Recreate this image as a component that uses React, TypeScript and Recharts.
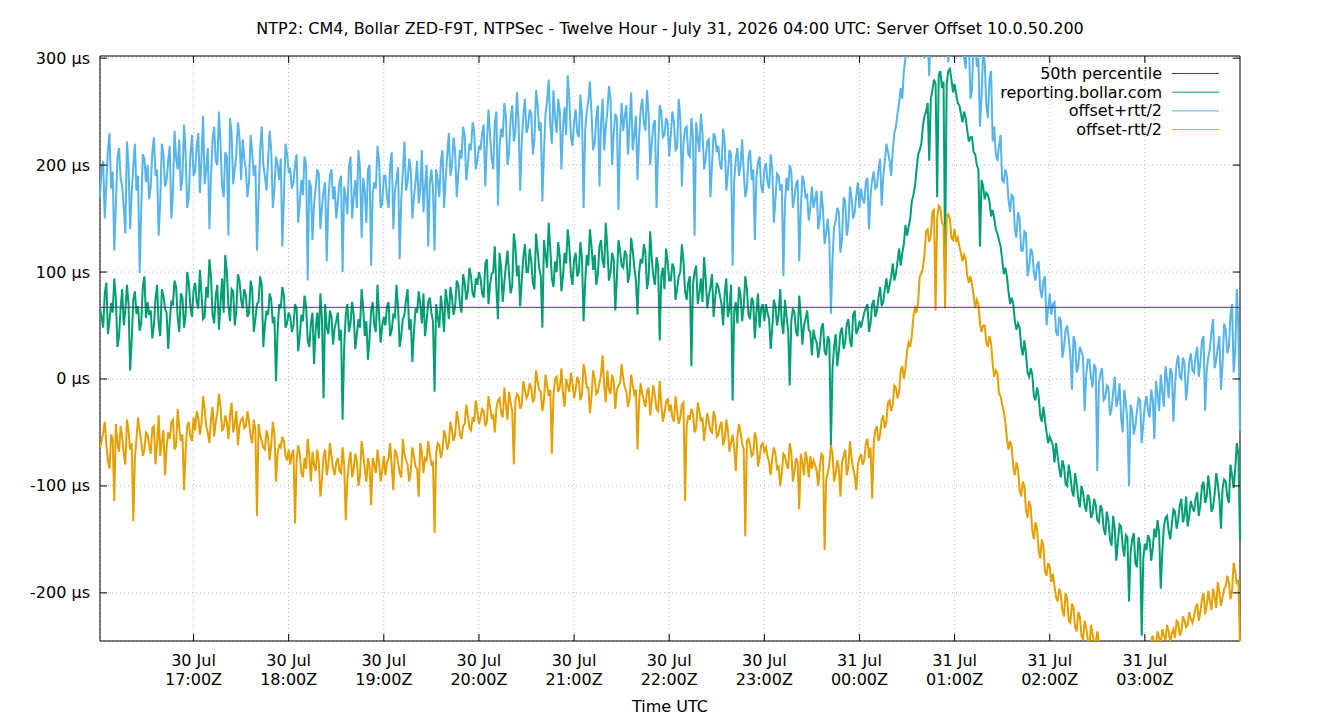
import { LineChart, Line, XAxis, YAxis, CartesianGrid, ReferenceLine, ReferenceArea } from 'recharts';

const FONT = '"DejaVu Sans", sans-serif';

// plot box edges in page pixels (used by the tick renderers)
const PLOT_LEFT = 100;
const PLOT_RIGHT = 1240;
const PLOT_TOP = 56;
const PLOT_BOTTOM = 641;

// samples: minutes after 30 Jul 16:00Z, one per minute
const SAMPLE_START = 1;
const SAMPLE_STEP = 1;

// server offset in µs (reporting.bollar.com), 30 samples per row
const offsetUs = [
  66, 58, 48, 80, 90, 42, 55, 71, 62, 94, 76, 30, 40, 66, 84, 50, 64, 88, 70, 8, 36, 74, 82, 61, 68, 45, 52, 86, 96, 57,
  72, 60, 64, 38, 50, 75, 88, 52, 40, 84, 78, 66, 62, 28, 54, 72, 70, 92, 86, 57, 44, 80, 76, 48, 60, 100, 90, 68, 58, 83,
  90, 72, 66, 102, 80, 56, 58, 86, 76, 112, 96, 60, 52, 78, 88, 46, 70, 94, 62, 116, 100, 68, 54, 84, 82, 50, 64, 98, 92, 74,
  66, 84, 78, 58, 62, 92, 84, 44, 56, 70, 72, 96, 88, 30, 50, 64, 60, 80, 74, 52, 58, -2, 44, 70, 66, 86, 78, 48, 52, 62,
  58, 44, 50, 70, 66, 26, 40, 60, 54, 78, 68, 36, 30, 52, 62, 14, 46, 62, 38, 80, 56, -18, 70, 48, 42, 64, 58, 32, 48, 54,
  62, 36, 46, -38, 30, 60, 70, 44, 52, 72, 60, 28, 42, 56, 48, 84, 66, 40, 54, 18, 38, 64, 72, 50, 44, 88, 60, 34, 50, 58,
  50, 68, 72, 40, 46, 60, 58, 88, 66, 30, 40, 56, 60, 74, 84, 46, 56, 16, 44, 66, 62, 82, 70, 52, 80, 40, 54, 72, 76, 62,
  54, -12, 70, 58, 48, 78, 64, 44, 84, 72, 56, 86, 76, 60, 68, 92, 88, 70, 62, 98, 90, 74, 82, 104, 96, 80, 76, 94, 88, 100,
  94, 80, 76, 108, 112, 70, 88, 98, 100, 124, 84, 56, 118, 104, 72, 90, 106, 120, 98, 80, 88, 136, 124, 96, 106, 68, 92, 114, 126, 100,
  100, 122, 110, 90, 84, 136, 120, 104, 96, 48, 130, 116, 104, 146, 122, 94, 86, 110, 100, 128, 114, 82, 96, 118, 108, 140, 124, 98, 88, 112,
  118, 96, 100, 128, 112, 54, 90, 116, 106, 140, 124, 102, 116, 88, 98, 124, 130, 110, 104, 146, 122, 92, 100, 118, 112, 64, 94, 130, 120, 106,
  104, 120, 116, 90, 98, 132, 120, 104, 92, 60, 100, 112, 108, 126, 118, 84, 94, 138, 112, 96, 88, 114, 106, 36, 96, 104, 84, 122, 110, 92,
  92, 108, 104, 74, 84, 96, 100, 126, 110, 82, 74, 90, 96, 12, 88, 100, 106, 70, 80, 94, 72, 114, 94, 66, 78, 86, 98, 58, 76, 90,
  86, 78, 70, 50, 80, 94, 58, 66, 88, -20, 64, 72, 52, 86, 78, 54, 68, 96, 84, 60, 56, 76, 72, 38, 62, 80, 48, 66, 70, 54,
  70, 62, 56, 28, 48, 74, 68, 50, 60, 84, 52, 42, 74, 58, 46, -6, 54, 66, 62, 44, 40, 78, 58, 32, 50, 56, 64, 46, 44, 22,
  46, 38, 34, 20, 30, 48, 52, 26, 22, 40, 36, -62, 10, 30, 42, 12, 26, 44, 48, 28, 34, 52, 56, 36, 30, 60, 64, 42, 46, 54,
  48, 55, 62, 66, 70, 44, 52, 70, 74, 58, 64, 76, 86, 68, 72, 84, 94, 80, 88, 96, 108, 92, 98, 110, 122, 106, 118, 126, 144, 134,
  142, 150, 166, 172, 180, 196, 210, 214, 220, 236, 246, 250, 258, 204, 262, 270, 280, 276, 170, 284, 288, 272, 278, 118, 276, 288, 290, 280, 268, 276,
  266, 258, 256, 248, 240, 250, 244, 232, 222, 226, 226, 212, 210, 200, 196, 124, 186, 180, 168, 174, 172, 166, 152, 158, 150, 140, 136, 130, 124, 112,
  98, 104, 96, 82, 70, 76, 70, 54, 46, 52, 48, 30, 22, 36, 24, 6, 2, 10, 4, -16, -20, -8, -16, -34, -40, -26, -38, -50, -60, -54,
  -58, -62, -78, -60, -72, -84, -92, -76, -82, -98, -100, -80, -90, -104, -110, -88, -98, -112, -120, -100, -106, -118, -124, -108, -112, -130, -126, -112, -118, -132,
  -134, -118, -122, -140, -146, -124, -132, -150, -156, -128, -140, -170, -152, -136, -138, -156, -166, -146, -148, -208, -162, -150, -144, -172, -176, -148, -156, -240, -168, -154,
  -160, -146, -150, -170, -158, -140, -148, -132, -144, -196, -162, -138, -130, -128, -142, -150, -136, -122, -124, -140, -132, -118, -112, -134, -128, -110, -138, -128, -114, -120,
  -124, -112, -106, -128, -118, -100, -96, -116, -110, -90, -104, -124, -120, -108, -88, -98, -112, -140, -102, -94, -96, -110, -116, -80, -90, -102, -84, -60, -70, -150,
];

// offset + rtt/2 in µs
const offsetPlusHalfRtt = [
  170, 196, 204, 150, 182, 214, 230, 178, 194, 120, 162, 206, 216, 188, 180, 160, 136, 222, 200, 140, 174, 198, 220, 176, 190, 99, 158, 210, 206, 184,
  200, 168, 180, 212, 226, 190, 196, 134, 166, 220, 210, 180, 186, 204, 218, 150, 174, 232, 206, 196, 224, 176, 188, 238, 212, 160, 170, 210, 228, 190,
  194, 218, 230, 174, 206, 246, 182, 196, 216, 140, 190, 224, 236, 204, 200, 250, 220, 180, 170, 212, 208, 134, 244, 230, 182, 196, 210, 240, 226, 186,
  224, 206, 196, 170, 184, 228, 212, 190, 200, 120, 166, 214, 236, 200, 190, 176, 204, 232, 214, 160, 178, 208, 200, 186, 206, 124, 172, 220, 210, 194,
  196, 178, 184, 200, 210, 146, 164, 186, 172, 208, 200, 92, 186, 180, 130, 164, 178, 196, 192, 140, 160, 176, 184, 110, 166, 190, 196, 168, 180, 150,
  166, 184, 190, 100, 180, 170, 154, 198, 208, 150, 170, 186, 160, 214, 196, 132, 188, 176, 146, 196, 200, 106, 174, 184, 178, 218, 204, 160, 164, 190,
  190, 170, 160, 200, 212, 140, 176, 186, 198, 112, 168, 194, 222, 176, 184, 206, 196, 150, 170, 184, 204, 164, 178, 214, 156, 180, 200, 124, 182, 196,
  178, 120, 196, 186, 170, 204, 214, 160, 186, 210, 230, 190, 200, 226, 212, 170, 192, 214, 206, 236, 228, 186, 200, 220, 214, 240, 232, 196, 204, 218,
  214, 230, 238, 180, 220, 252, 228, 206, 196, 240, 250, 162, 218, 234, 226, 258, 246, 200, 212, 244, 256, 222, 232, 268, 240, 176, 222, 246, 262, 230,
  236, 252, 248, 210, 224, 270, 256, 232, 240, 166, 212, 248, 260, 280, 238, 220, 270, 244, 230, 262, 250, 196, 236, 254, 228, 284, 262, 226, 218, 240,
  252, 230, 226, 266, 246, 160, 232, 250, 260, 278, 248, 214, 220, 244, 256, 180, 240, 262, 214, 236, 250, 274, 262, 200, 230, 248, 244, 158, 226, 258,
  232, 246, 256, 210, 238, 268, 214, 228, 246, 186, 226, 252, 262, 240, 232, 270, 248, 200, 220, 238, 242, 160, 214, 256, 250, 226, 228, 244, 240, 208,
  228, 250, 240, 214, 216, 262, 244, 180, 220, 234, 236, 210, 208, 244, 226, 134, 240, 226, 212, 248, 230, 196, 206, 222, 224, 170, 200, 230, 226, 212,
  218, 200, 196, 234, 222, 176, 192, 214, 210, 106, 186, 206, 216, 190, 200, 224, 194, 170, 178, 208, 214, 186, 196, 130, 188, 202, 208, 180, 174, 196,
  202, 184, 178, 210, 196, 146, 168, 192, 190, 176, 182, 96, 164, 188, 176, 200, 194, 160, 170, 182, 186, 110, 160, 190, 184, 170, 172, 148, 160, 180,
  160, 168, 176, 140, 150, 176, 158, 126, 136, 150, 130, 61, 112, 142, 148, 160, 156, 118, 132, 170, 166, 134, 144, 180, 170, 150, 156, 172, 184, 160,
  178, 168, 164, 184, 188, 140, 172, 186, 194, 178, 180, 196, 206, 162, 190, 204, 220, 212, 204, 190, 214, 230, 236, 248, 258, 272, 262, 288, 300, 312,
  330, 320, 306, 334, 328, 312, 318, 340, 346, 326, 300, 318, 322, 283, 340, 336, 312, 322, 332, 344, 326, 310, 308, 330, 336, 296, 316, 338, 342, 324,
  332, 316, 308, 334, 324, 300, 290, 328, 314, 262, 270, 320, 318, 292, 300, 236, 264, 308, 296, 256, 244, 280, 288, 222, 236, 210, 204, 218, 228, 186,
  184, 196, 190, 168, 156, 172, 170, 140, 132, 156, 150, 120, 120, 138, 136, 96, 104, 122, 118, 100, 92, 106, 110, 84, 76, 92, 96, 50, 66, 80,
  60, 70, 72, 44, 40, 58, 54, 20, 30, 46, 50, 38, 22, -10, 40, 34, 6, 12, 30, 26, 20, -30, 4, 18, 18, 2, -8, 14, 10, -86,
  -4, 6, 10, -20, -18, -6, -8, -34, -28, -12, 2, -26, -20, -4, -36, -50, -10, -22, -40, -100, -24, -30, -52, -44, -30, -18, -20, -60, -42, -24,
  -16, -30, -36, -10, -20, -56, -2, -14, -30, 4, -12, -26, 12, 0, -18, 10, 6, -40, -6, 14, 22, 2, 0, 20, 14, -20, -4, 16, 24, 8,
  6, 22, 30, 2, 16, 36, 40, -30, 8, 20, 28, 44, 56, 10, 18, 30, 40, -10, 14, 52, 46, 24, 30, 60, 70, 6, 26, 84, 48, -48,
];

// offset - rtt/2 in µs
const offsetMinusHalfRtt = [
  -64, -58, -50, -40, -62, -76, -84, -52, -56, -114, -42, -60, -68, -44, -54, -70, -80, -38, -48, -66, -60, -133, -74, -56, -36, -48, -58, -72, -66, -50,
  -52, -62, -70, -46, -44, -80, -60, -34, -72, -58, -48, -90, -64, -50, -56, -40, -38, -66, -62, -28, -46, -58, -52, -104, -68, -44, -40, -54, -58, -36,
  -48, -30, -36, -52, -42, -16, -28, -44, -50, -60, -38, -26, -54, -40, -32, -14, -26, -48, -46, -34, -40, -56, -34, -22, -50, -42, -30, -62, -44, -38,
  -36, -46, -44, -30, -40, -54, -60, -38, -48, -128, -42, -52, -58, -64, -66, -48, -54, -76, -62, -40, -50, -96, -70, -62, -64, -54, -58, -72, -76, -66,
  -80, -70, -66, -135, -76, -62, -70, -88, -92, -74, -84, -56, -72, -96, -68, -80, -86, -66, -78, -110, -94, -72, -66, -90, -80, -60, -72, -84, -90, -78,
  -74, -86, -88, -64, -80, -132, -94, -78, -68, -92, -84, -70, -76, -100, -90, -58, -70, -84, -96, -74, -82, -118, -74, -80, -88, -66, -78, -96, -86, -72,
  -90, -78, -74, -60, -82, -104, -66, -70, -78, -88, -92, -56, -70, -76, -80, -96, -86, -64, -72, -82, -84, -110, -60, -68, -88, -74, -76, -58, -70, -80,
  -78, -144, -70, -60, -62, -74, -66, -48, -54, -66, -60, -40, -48, -58, -52, -30, -38, -52, -56, -44, -42, -24, -34, -46, -48, -36, -40, -20, -30, -42,
  -36, -28, -30, -44, -40, -16, -26, -36, -34, -50, -28, -20, -18, -32, -36, -8, -24, -38, -12, -22, -30, -80, -20, -14, -16, -28, -24, -2, -10, -18,
  -14, -4, -8, -22, -18, 8, -2, -10, -12, -30, -20, 4, -6, -16, -10, -70, -16, 0, 2, -12, -8, 10, -14, -26, 0, -6, -12, 6, -4, -18,
  -10, 2, -2, -20, -14, 14, 6, -8, -8, -32, -16, 8, 0, -14, -12, -4, 4, 22, -6, -22, 8, -10, -14, 4, -2, -28, -10, -6, -4, 14,
  0, -8, -12, -26, -18, 4, -6, -14, -10, -66, -22, -4, -14, -20, -26, -12, -8, -34, -20, -6, -16, -28, -30, -2, -24, -40, -32, -22, -18, -30,
  -24, -36, -40, -16, -30, -42, -36, -24, -22, -114, -44, -34, -38, -28, -32, -50, -46, -22, -30, -40, -36, -58, -44, -32, -40, -48, -50, -30, -36, -54,
  -52, -44, -40, -62, -56, -38, -48, -68, -60, -52, -64, -86, -54, -42, -50, -60, -66, -147, -58, -56, -62, -72, -70, -50, -56, -82, -74, -62, -60, -68,
  -64, -72, -78, -90, -74, -64, -70, -84, -82, -100, -88, -70, -72, -80, -84, -60, -68, -96, -86, -74, -78, -122, -70, -78, -90, -68, -76, -92, -72, -84,
  -76, -80, -86, -100, -82, -70, -72, -160, -94, -88, -80, -62, -70, -96, -88, -76, -84, -110, -78, -72, -66, -90, -82, -58, -74, -84, -90, -104, -80, -74,
  -70, -80, -76, -60, -56, -74, -64, -112, -60, -48, -44, -58, -52, -38, -34, -46, -40, -22, -20, -30, -24, -6, -8, -18, -12, 8, 12, 0, 10, 26,
  34, 30, 40, 58, 66, 62, 72, 96, 98, 104, 116, 138, 140, 128, 134, 156, 158, 64, 150, 162, 160, 146, 144, 66, 152, 154, 150, 132, 130, 140,
  128, 132, 124, 118, 110, 116, 112, 96, 90, 96, 88, 78, 66, 74, 70, 52, 44, 50, 50, 34, 30, 40, 34, 14, 2, 8, 6, -14, -16, -24,
  -30, -40, -56, -66, -58, -64, -82, -90, -78, -84, -104, -110, -96, -100, -122, -130, -114, -120, -142, -150, -134, -140, -160, -168, -150, -156, -180, -184, -172, -176,
  -190, -182, -194, -204, -208, -196, -202, -216, -222, -200, -206, -226, -228, -210, -214, -232, -236, -218, -222, -240, -244, -226, -232, -244, -252, -230, -238, -248, -246, -236,
  -246, -250, -262, -258, -256, -252, -270, -264, -260, -256, -266, -268, -274, -260, -264, -270, -270, -262, -258, -266, -268, -272, -264, -258, -256, -268, -266, -262, -254, -260,
  -250, -256, -260, -244, -240, -250, -248, -236, -242, -248, -234, -240, -244, -230, -236, -246, -238, -234, -242, -226, -228, -240, -236, -222, -226, -232, -230, -218, -224, -228,
  -222, -214, -210, -226, -218, -206, -200, -220, -212, -198, -208, -216, -196, -204, -214, -190, -200, -212, -204, -196, -194, -184, -190, -206, -198, -172, -180, -192, -188, -250,
];

const percentile50 = 67;

const xTicks = [60, 120, 180, 240, 300, 360, 420, 480, 540, 600, 660];
const tickDays = ['30 Jul', '30 Jul', '30 Jul', '30 Jul', '30 Jul', '30 Jul', '30 Jul', '31 Jul', '31 Jul', '31 Jul', '31 Jul'];
const tickTimes = ['17:00Z', '18:00Z', '19:00Z', '20:00Z', '21:00Z', '22:00Z', '23:00Z', '00:00Z', '01:00Z', '02:00Z', '03:00Z'];
const yTicks = [-200, -100, 0, 100, 200, 300];

const xDomain = [1, 720];
const yDomain = [-245, 302];

const legendNames = ['50th percentile', 'reporting.bollar.com', 'offset+rtt/2', 'offset-rtt/2'];
const legendColors = ['#9400d3', '#009e73', '#56b4e9', '#e69f00'];

const data = offsetUs.map((v, i) => ({
  t: SAMPLE_START + i * SAMPLE_STEP,
  offset: v,
  plus: offsetPlusHalfRtt[i],
  minus: offsetMinusHalfRtt[i],
}));

// bottom axis: two-line date/time label, ticks drawn inward on bottom and top border
const TimeTick = (props: any) => {
  const { x, payload } = props;
  const i = xTicks.indexOf(payload.value);
  return (
    <g>
      <line x1={x} x2={x} y1={PLOT_BOTTOM} y2={PLOT_BOTTOM - 7} stroke="#000" />
      <line x1={x} x2={x} y1={PLOT_TOP} y2={PLOT_TOP + 7} stroke="#000" />
      <text x={x} y={666} textAnchor="middle" fontSize={16} fontFamily={FONT} fill="#000">{tickDays[i]}</text>
      <text x={x} y={685} textAnchor="middle" fontSize={16} fontFamily={FONT} fill="#000">{tickTimes[i]}</text>
    </g>
  );
};

const MicroTick = (props: any) => {
  const { y, payload } = props;
  return (
    <g>
      <line x1={PLOT_LEFT} x2={PLOT_LEFT + 7} y1={y} y2={y} stroke="#000" />
      <line x1={PLOT_RIGHT} x2={PLOT_RIGHT - 7} y1={y} y2={y} stroke="#000" />
      <text x={90} y={y + 5.5} textAnchor="end" fontSize={16} fontFamily={FONT} fill="#000">{`${payload.value} µs`}</text>
    </g>
  );
};

export default function App() {
  return (
    <div style={{ position: 'absolute', left: 0, top: 0, width: 1340, height: 720, background: '#fff' }}>
      <LineChart
        width={1340}
        height={720}
        data={data}
        margin={{ top: PLOT_TOP, right: 1340 - PLOT_RIGHT, bottom: 0, left: 0 }}
      >
        <CartesianGrid stroke="#b8b8b8" strokeDasharray="1 3" />
        <XAxis
          dataKey="t"
          type="number"
          domain={xDomain}
          ticks={xTicks}
          interval={0}
          height={720 - PLOT_BOTTOM}
          axisLine={false}
          tickLine={false}
          tick={<TimeTick />}
        />
        <YAxis
          type="number"
          domain={yDomain}
          allowDataOverflow
          ticks={yTicks}
          interval={0}
          width={PLOT_LEFT}
          axisLine={false}
          tickLine={false}
          tick={<MicroTick />}
        />
        <Line name="reporting.bollar.com" dataKey="offset" stroke="#009e73" strokeWidth={2} dot={false} isAnimationActive={false} />
        <Line name="offset+rtt/2" dataKey="plus" stroke="#56b4e9" strokeWidth={2} dot={false} isAnimationActive={false} />
        <Line name="offset-rtt/2" dataKey="minus" stroke="#e69f00" strokeWidth={2} dot={false} isAnimationActive={false} />
        <ReferenceLine y={percentile50} stroke="#9400d3" strokeWidth={1} />
        <ReferenceArea x1={xDomain[0]} x2={xDomain[1]} y1={yDomain[0]} y2={yDomain[1]} fill="none" fillOpacity={0} stroke="#000" strokeWidth={1} />
      </LineChart>
      <svg width={1340} height={720} style={{ position: 'absolute', left: 0, top: 0, pointerEvents: 'none' }}>
        <text x={670} y={34} textAnchor="middle" fontSize={16} fontFamily={FONT} fill="#000">
          NTP2: CM4, Bollar ZED-F9T, NTPSec - Twelve Hour - July 31, 2026 04:00 UTC: Server Offset 10.0.50.200
        </text>
        <text x={670} y={712} textAnchor="middle" fontSize={16} fontFamily={FONT} fill="#000">Time UTC</text>
        {legendNames.map((name, i) => (
          <g key={name}>
            <text x={1162} y={73.5 + i * 18.7 + 5.5} textAnchor="end" fontSize={16} fontFamily={FONT} fill="#000">{name}</text>
            <line x1={1172} x2={1219} y1={73.5 + i * 18.7} y2={73.5 + i * 18.7} stroke={legendColors[i]} strokeWidth={1} />
          </g>
        ))}
      </svg>
    </div>
  );
}
